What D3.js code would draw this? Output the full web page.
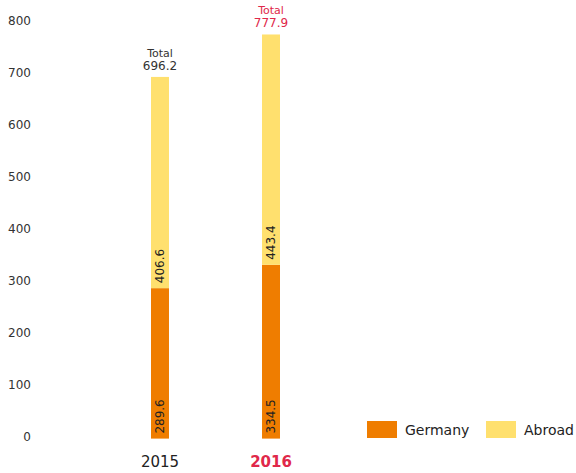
<!DOCTYPE html>
<html>
<head>
<meta charset="utf-8">
<script src="https://cdn.jsdelivr.net/npm/d3@7"></script>
<style>
  body { margin: 0; background: #fff; }
  text { font-family: "DejaVu Sans", sans-serif; }
</style>
</head>
<body>
<div id="chart"></div>
<script>
const years = ['2015', '2016'];
const germany = [289.6, 334.5];
const abroad = [406.6, 443.4];
const totals = [696.2, 777.9];
const yTicks = [0, 100, 200, 300, 400, 500, 600, 700, 800];
const seriesNames = ['Germany', 'Abroad'];

const width = 576, height = 473;
const colors = { Germany: '#ef7d00', Abroad: '#ffe06e' };
const highlight = '#e0284a';

const svg = d3.select('#chart').append('svg')
  .attr('width', width)
  .attr('height', height);

// scales
const x = d3.scaleBand()
  .domain(years)
  .range([95.5, 335.5])
  .paddingInner(0.838)
  .paddingOuter(0.5);

const y = d3.scaleLinear()
  .domain([0, 800])
  .range([438.6, 23]);

// y axis (labels only)
const yAxis = svg.append('g')
  .attr('transform', 'translate(31,-2)')
  .call(d3.axisLeft(y).tickValues(yTicks).tickSize(0).tickPadding(0));
yAxis.select('.domain').remove();
yAxis.selectAll('text')
  .attr('fill', '#333')
  .style('font-size', '12px');

// stacked data
const stackData = years.map((yr, i) => ({ year: yr, Germany: germany[i], Abroad: abroad[i] }));
const stacked = d3.stack().keys(seriesNames)(stackData);

const layers = svg.selectAll('g.layer')
  .data(stacked)
  .join('g')
  .attr('class', 'layer')
  .attr('fill', d => colors[d.key]);

layers.selectAll('rect')
  .data(d => d)
  .join('rect')
  .attr('x', d => x(d.data.year))
  .attr('y', d => y(d[1]))
  .attr('width', x.bandwidth())
  .attr('height', d => y(d[0]) - y(d[1]));

// value labels inside the bars, rotated
layers.each(function(layer) {
  d3.select(this).selectAll('text')
    .data(layer)
    .join('text')
    .attr('transform', d => 'translate(' + (x(d.data.year) + x.bandwidth() / 2 + 4) + ',' + (y(d[0]) - 5) + ') rotate(-90)')
    .attr('fill', '#222')
    .style('font-size', '12px')
    .text(d => (d[1] - d[0]).toFixed(1));
});

// totals above the bars
const totalG = svg.selectAll('g.total')
  .data(years)
  .join('g')
  .attr('class', 'total')
  .attr('transform', (d, i) => 'translate(' + (x(d) + x.bandwidth() / 2) + ',' + y(totals[i]) + ')')
  .attr('fill', (d, i) => i === 1 ? highlight : '#333')
  .style('text-anchor', 'middle')
  .style('font-size', '11px');

totalG.append('text').attr('y', -20).text('Total');
totalG.append('text').attr('y', -7).style('font-size', '12px').text((d, i) => totals[i].toFixed(1));

// x axis labels
svg.selectAll('text.xlabel')
  .data(years)
  .join('text')
  .attr('class', 'xlabel')
  .attr('x', d => x(d) + x.bandwidth() / 2)
  .attr('y', 467)
  .style('text-anchor', 'middle')
  .style('font-size', '15px')
  .style('font-weight', (d, i) => i === 1 ? 'bold' : 'normal')
  .attr('fill', (d, i) => i === 1 ? highlight : '#222')
  .text(d => d);

// legend
const legend = svg.selectAll('g.legend')
  .data(seriesNames)
  .join('g')
  .attr('class', 'legend')
  .attr('transform', (d, i) => 'translate(' + (367 + i * 119) + ',421)');

legend.append('rect')
  .attr('width', 30)
  .attr('height', 17)
  .attr('fill', d => colors[d]);

legend.append('text')
  .attr('x', 38)
  .attr('y', 14)
  .attr('fill', '#222')
  .style('font-size', '14px')
  .text(d => d);
</script>
</body>
</html>
